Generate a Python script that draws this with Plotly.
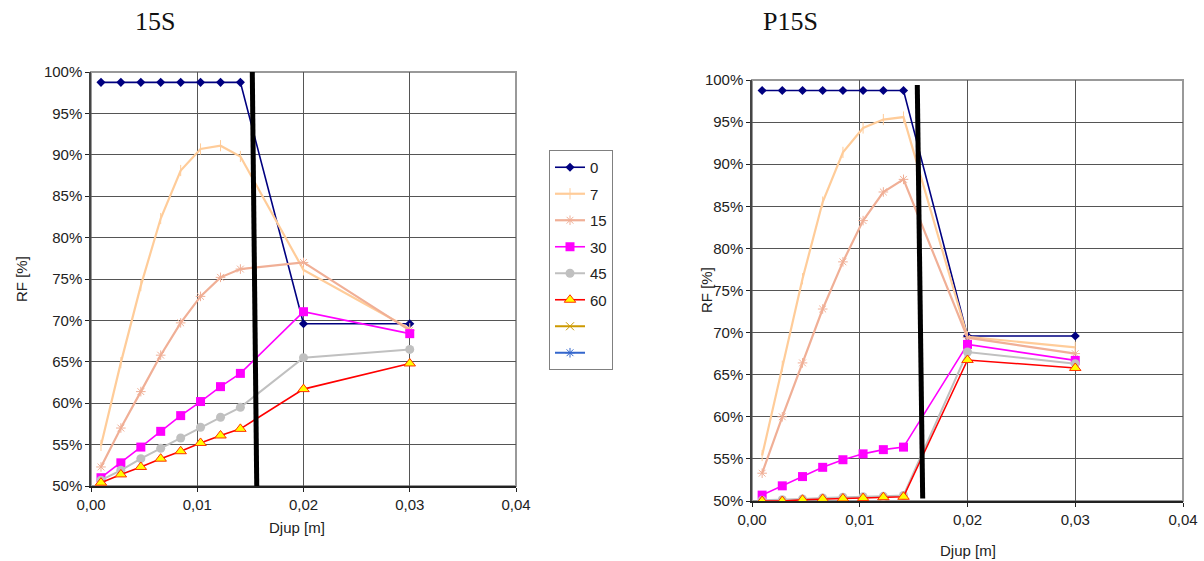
import plotly.graph_objects as go

# Depth positions [m]
djup = [0.00094, 0.00281, 0.00469, 0.00656, 0.00844, 0.01031, 0.01219, 0.01406, 0.02, 0.03]

# Series names
series_names = ["0", "7", "15", "30", "45", "60"]

# RF [%] for 15S
rf_15s_0 = [98.75, 98.75, 98.75, 98.75, 98.75, 98.75, 98.75, 98.75, 69.6, 69.6]
rf_15s_7 = [54.9, 64.9, 74.2, 82.3, 88.1, 90.7, 91.1, 89.8, 76.1, 69.0]
rf_15s_15 = [52.3, 57.0, 61.4, 65.8, 69.7, 72.9, 75.2, 76.2, 77.0, 68.8]
rf_15s_30 = [51.0, 52.8, 54.7, 56.6, 58.5, 60.2, 62.0, 63.6, 71.05, 68.4]
rf_15s_45 = [50.7, 51.9, 53.3, 54.55, 55.8, 57.1, 58.3, 59.5, 65.5, 66.5]
rf_15s_60 = [50.4, 51.4, 52.3, 53.3, 54.2, 55.2, 56.1, 56.9, 61.7, 64.8]

# RF [%] for P15S
rf_p15s_0 = [98.75, 98.75, 98.75, 98.75, 98.75, 98.75, 98.75, 98.75, 69.6, 69.6]
rf_p15s_7 = [55.4, 66.0, 76.4, 85.5, 91.4, 94.3, 95.3, 95.6, 69.5, 68.25]
rf_p15s_15 = [53.3, 60.0, 66.4, 72.8, 78.4, 83.3, 86.7, 88.2, 69.4, 67.5]
rf_p15s_30 = [50.7, 51.8, 52.9, 54.0, 54.9, 55.6, 56.1, 56.4, 68.6, 66.7]
rf_p15s_45 = [50.1, 50.15, 50.25, 50.35, 50.45, 50.5, 50.55, 50.65, 67.7, 66.3]
rf_p15s_60 = [50.0, 50.0, 50.15, 50.25, 50.3, 50.35, 50.45, 50.5, 66.75, 65.8]

# Thick black marker line (depth limit) per chart
limit_15s_x = [0.01518, 0.0156]
limit_15s_y = [100, 50]
limit_p15s_x = [0.01534, 0.01584]
limit_p15s_y = [99.4, 50.3]

styles = [
    dict(line=dict(color="#000080", width=1.6),
         marker=dict(symbol="diamond", size=7, color="#000080")),
    dict(line=dict(color="#FFCC99", width=2.2),
         marker=dict(symbol="line-ns", size=8, color="#FFCC99", line=dict(color="#FFCC99", width=1))),
    dict(line=dict(color="#F0AF96", width=2.2),
         marker=dict(symbol="asterisk", size=8, color="#F0AF96", line=dict(color="#F0AF96", width=1))),
    dict(line=dict(color="#FF00FF", width=1.6),
         marker=dict(symbol="square", size=9, color="#FF00FF")),
    dict(line=dict(color="#C0C0C0", width=2),
         marker=dict(symbol="circle", size=9, color="#C0C0C0")),
    dict(line=dict(color="#FF0000", width=1.6),
         marker=dict(symbol="triangle-up", size=10, color="#FFFF00", line=dict(color="#FF3300", width=1))),
]

fig = go.Figure()

left_sets = [rf_15s_0, rf_15s_7, rf_15s_15, rf_15s_30, rf_15s_45, rf_15s_60]
right_sets = [rf_p15s_0, rf_p15s_7, rf_p15s_15, rf_p15s_30, rf_p15s_45, rf_p15s_60]

for i, (name, ys) in enumerate(zip(series_names, left_sets)):
    fig.add_trace(go.Scatter(x=djup, y=ys, name=name, mode="lines+markers",
                             legendgroup="s" + name, legendrank=i + 1,
                             xaxis="x", yaxis="y", **styles[i]))

# Empty series that appear only in the legend
fig.add_trace(go.Scatter(x=[None], y=[None], name=" ", mode="lines+markers",
                         legendgroup="extra_a", legendrank=7,
                         line=dict(color="#CC9900", width=2),
                         marker=dict(symbol="x-thin", size=8, color="#CC9900", line=dict(color="#CC9900", width=1)),
                         xaxis="x", yaxis="y"))
fig.add_trace(go.Scatter(x=[None], y=[None], name=" ", mode="lines+markers",
                         legendgroup="extra_b", legendrank=8,
                         line=dict(color="#3366CC", width=2),
                         marker=dict(symbol="asterisk", size=8, color="#3366CC", line=dict(color="#3366CC", width=1)),
                         xaxis="x", yaxis="y"))

for i, (name, ys) in enumerate(zip(series_names, right_sets)):
    fig.add_trace(go.Scatter(x=djup, y=ys, name=name, mode="lines+markers", showlegend=False,
                             legendgroup="s" + name, xaxis="x2", yaxis="y2", **styles[i]))

fig.add_trace(go.Scatter(x=limit_15s_x, y=limit_15s_y, mode="lines", showlegend=False,
                         line=dict(color="black", width=5), xaxis="x", yaxis="y", hoverinfo="skip"))
fig.add_trace(go.Scatter(x=limit_p15s_x, y=limit_p15s_y, mode="lines", showlegend=False,
                         line=dict(color="black", width=5), xaxis="x2", yaxis="y2", hoverinfo="skip"))

W, H = 1204, 561
base_font = dict(family="Liberation Sans, Arial, sans-serif", size=15, color="#222")

def xaxis_cfg(x0, x1, anchor):
    return dict(domain=[x0 / W, x1 / W], anchor=anchor, range=[0, 0.04], dtick=0.01,
                tickformat=".2f", showgrid=True, gridcolor="#555", gridwidth=1,
                showline=True, linecolor="#222", linewidth=1.5, mirror=False,
                ticks="outside", ticklen=4, tickcolor="#222", tickfont=base_font,
                zeroline=False, fixedrange=True, automargin=False)

def yaxis_cfg(y_top, y_bot, anchor):
    return dict(domain=[1 - y_bot / H, 1 - y_top / H], anchor=anchor, range=[50, 100], dtick=5,
                ticksuffix="%", showgrid=True, gridcolor="#555", gridwidth=1,
                showline=True, linecolor="#444", linewidth=1.5, mirror=False,
                ticks="outside", ticklen=4, tickcolor="#222", tickfont=base_font,
                zeroline=False, fixedrange=True, automargin=False)

fig.update_layout(
    width=W, height=H,
    margin=dict(l=0, r=0, t=0, b=0),
    paper_bgcolor="white", plot_bgcolor="white",
    separators=", ",
    xaxis=xaxis_cfg(91, 516, "y"),
    yaxis=yaxis_cfg(72, 486, "x"),
    xaxis2=xaxis_cfg(752, 1183, "y2"),
    yaxis2=yaxis_cfg(80, 501, "x2"),
    legend=dict(x=549 / W, y=1 - 150 / H, xanchor="left", yanchor="top",
                bordercolor="#808080", borderwidth=1, bgcolor="white",
                font=dict(family="Liberation Sans, Arial, sans-serif", size=15, color="#222"),
                tracegroupgap=4, itemwidth=30, traceorder="grouped"),
    showlegend=True,
)

# Plot area frames (top/right border)
for xd, yd in [((91, 516), (72, 486)), ((752, 1183), (80, 501))]:
    fig.add_shape(type="rect", xref="paper", yref="paper",
                  x0=xd[0] / W, x1=xd[1] / W, y0=1 - yd[1] / H, y1=1 - yd[0] / H,
                  line=dict(color="#999", width=2), layer="below")

# Axis titles
for xt, yt in [(297, 527), (968, 550)]:
    fig.add_annotation(text="Djup [m]", x=xt / W, y=1 - yt / H, xref="paper", yref="paper",
                       showarrow=False, font=base_font, xanchor="center", yanchor="middle")
for xt, yt in [(21, 279), (706, 290)]:
    fig.add_annotation(text="RF [%]", x=xt / W, y=1 - yt / H, xref="paper", yref="paper",
                       showarrow=False, font=base_font, textangle=-90,
                       xanchor="center", yanchor="middle")

title_font = dict(family="Liberation Serif, Times New Roman, serif", size=26, color="#111")
fig.add_annotation(text="15S", x=155 / W, y=1 - 22 / H, xref="paper", yref="paper",
                   showarrow=False, font=title_font, xanchor="center", yanchor="middle")
fig.add_annotation(text="P15S", x=790 / W, y=1 - 22 / H, xref="paper", yref="paper",
                   showarrow=False, font=title_font, xanchor="center", yanchor="middle")

fig.write_html("out.html")
